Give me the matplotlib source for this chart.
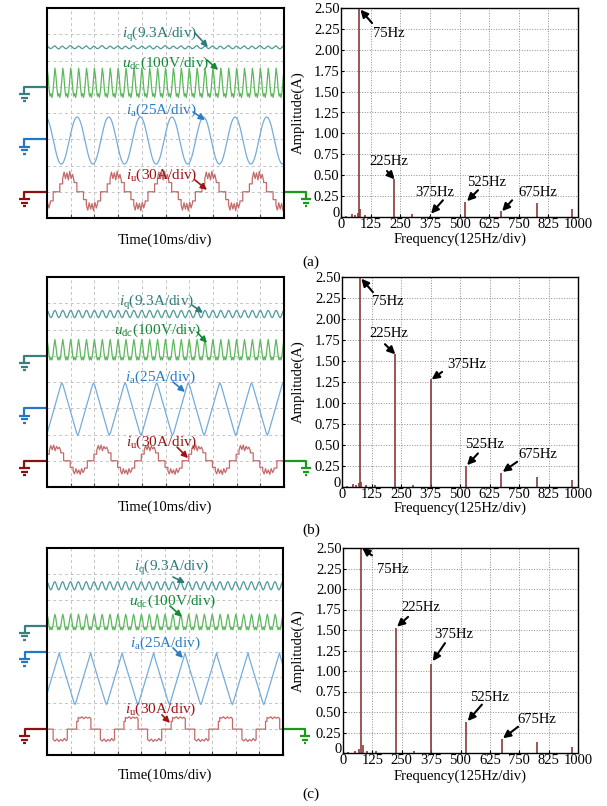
import numpy as np
import matplotlib.pyplot as plt
import matplotlib.transforms as mtransforms

plt.rcParams['font.family'] = ['Liberation Serif', 'DejaVu Serif']
plt.rcParams['mathtext.fontset'] = 'custom'
plt.rcParams['mathtext.rm'] = 'Liberation Serif'
plt.rcParams['mathtext.it'] = 'Liberation Serif:italic'

W, H = 607, 806
FS = 10.5

# ---------------- spectrum data (frequency in Hz, amplitude in A) ----------------
freq_a = [20, 45, 60, 70, 75, 82, 100, 225, 300, 375, 525, 675, 825, 975]
amp_a = [0.01, 0.03, 0.02, 0.05, 2.50, 0.10, 0.02, 0.45, 0.03, 0.01, 0.18, 0.07, 0.17, 0.10]
freq_b = [20, 45, 60, 70, 75, 82, 100, 140, 225, 300, 375, 525, 675, 825, 975]
amp_b = [0.01, 0.04, 0.02, 0.05, 2.50, 0.06, 0.02, 0.02, 1.58, 0.02, 1.28, 0.25, 0.17, 0.12, 0.08]
freq_c = [20, 50, 70, 77, 84, 100, 140, 225, 300, 375, 525, 675, 825, 975]
amp_c = [0.01, 0.02, 0.05, 2.55, 0.10, 0.02, 0.02, 1.53, 0.02, 1.08, 0.38, 0.17, 0.14, 0.07]

freq_ticks = [0, 125, 250, 375, 500, 625, 750, 875, 1000]
freq_ticklabels = ['0', '125', '250', '375', '500', '625', '750', '825', '1000']
amp_ticks = [0, 0.25, 0.5, 0.75, 1.0, 1.25, 1.5, 1.75, 2.0, 2.25, 2.5]
amp_ticklabels = ['0', '0.25', '0.50', '0.75', '1.00', '1.25', '1.50', '1.75', '2.00', '2.25', '2.50']

# harmonic call-outs: label, text position, arrow tail, arrow head
notes_a = [('75Hz', (200, 2.2), (131, 2.32), (82, 2.48)),
           ('225Hz', (200, 0.66), (194, 0.55), (226, 0.45)),
           ('375Hz', (397, 0.29), (430, 0.2), (380, 0.04)),
           ('525Hz', (616, 0.41), (578, 0.32), (532, 0.19)),
           ('675Hz', (831, 0.29), (722, 0.2), (680, 0.07))]
notes_b = [('75Hz', (195, 2.21), (131, 2.32), (82, 2.48)),
           ('225Hz', (197, 1.83), (182, 1.7), (226, 1.58)),
           ('375Hz', (530, 1.46), (424, 1.37), (380, 1.28)),
           ('525Hz', (606, 0.5), (576, 0.4), (530, 0.26)),
           ('675Hz', (831, 0.39), (742, 0.3), (681, 0.18))]
notes_c = [('75Hz', (211, 2.24), (123, 2.41), (82, 2.5)),
           ('225Hz', (330, 1.78), (277, 1.66), (230, 1.54)),
           ('375Hz', (472, 1.44), (434, 1.34), (382, 1.12)),
           ('525Hz', (625, 0.68), (591, 0.59), (531, 0.39)),
           ('675Hz', (826, 0.41), (745, 0.32), (681, 0.18))]

# ---------------- scope traces (div units, 1 div = 10 ms) ----------------
P_A = 4 / 3      # ia period
P_U = 2.0        # iu period
P_R = 1 / 3      # ripple period

# one period of each trace (offset from its centre line)
iq_a = [0.05, 0.02, -0.03, -0.05, -0.01, 0.03, 0.06, 0.01, -0.04, -0.06, -0.02, 0.04,
        0.04, 0.00, -0.05, -0.04, 0.00, 0.05, 0.07, 0.02, -0.03, -0.05, -0.03, 0.02]
iq_b = [0.14, 0.10, 0.00, -0.10, -0.14, -0.10, 0.00, 0.10]
iq_c = [0.16, 0.10, -0.02, -0.12, -0.16, -0.10, 0.02, 0.12]

udc_a = [0.57, 0.30, -0.20, -0.50, -0.40, -0.55, -0.35, 0.10]
udc_b = [0.40, 0.15, -0.20, -0.38, -0.28, -0.38, -0.20, 0.15]
udc_c = [0.30, 0.15, -0.15, -0.30, -0.20, -0.30, -0.15, 0.10]

ia_a = [0.90, 0.87, 0.78, 0.64, 0.45, 0.23, 0.00, -0.23, -0.45, -0.64, -0.78, -0.87,
        -0.90, -0.87, -0.78, -0.64, -0.45, -0.23, 0.00, 0.23, 0.45, 0.64, 0.78, 0.87]
ia_tri_t = [0.0, 0.05, 0.617, 0.667, 0.717, 1.283]
ia_b = [1.00, 0.90, -0.90, -1.00, -0.90, 0.90]
ia_c = [1.00, 0.80, -0.90, -1.00, -0.88, 0.85]

iu_a_t = [0.00, 0.20, 0.20, 0.32, 0.32, 0.38, 0.44, 0.50, 0.56, 0.62, 0.68, 0.74, 0.80, 0.80,
          0.92, 0.92, 1.20, 1.20, 1.32, 1.32, 1.38, 1.44, 1.50, 1.56, 1.62, 1.68, 1.74, 1.80,
          1.80, 1.92, 1.92, 2.00]
iu_a = [0.00, 0.00, 0.30, 0.30, 0.50, 0.75, 0.50, 0.72, 0.45, 0.78, 0.50, 0.66, 0.42, 0.35,
        0.35, 0.00, 0.00, -0.30, -0.30, -0.50, -0.70, -0.42, -0.66, -0.45, -0.72, -0.40, -0.62,
        -0.42, -0.35, -0.35, 0.00, 0.00]
iu_b = [0.00, 0.00, 0.25, 0.25, 0.40, 0.58, 0.42, 0.60, 0.38, 0.55, 0.45, 0.52, 0.38, 0.30,
        0.30, 0.00, 0.00, -0.25, -0.25, -0.38, -0.50, -0.30, -0.48, -0.35, -0.52, -0.30, -0.45,
        -0.35, -0.28, -0.28, 0.00, 0.00]
iu_c_t = [0.00, 0.40, 0.40, 0.46, 0.46, 0.54, 0.62, 0.70, 0.78, 0.86, 0.94, 1.00, 1.00,
          1.40, 1.40, 1.48, 1.56, 1.64, 1.72, 1.80, 1.88, 1.96, 2.00, 2.00]
iu_c = [0.00, 0.00, 0.30, 0.30, 0.45, 0.42, 0.48, 0.40, 0.47, 0.42, 0.46, 0.40, 0.00,
        0.00, -0.40, -0.46, -0.38, -0.48, -0.40, -0.46, -0.36, -0.45, -0.40, 0.00]

C_IQ, C_IQ_L = '#4f9a9a', '#2f7a7a'
C_UDC, C_UDC_L = '#5cb85c', '#138a36'
C_IA, C_IA_L = '#74acdc', '#2a7cc4'
C_IU, C_IU_L = '#c46a6a', '#9e1414'
G_IQ, G_IA, G_IU, G_UDC = '#3a7f7f', '#1f78c8', '#8b1010', '#1a9a1a'

scopes = [
    dict(box=(47, 8, 284, 218),
         traces=[(None, iq_a, P_R * 4, 0.0, 6.5, C_IQ),
                 (None, udc_a, P_R, 0.0, 5.14, C_UDC),
                 (None, ia_a, P_A, 1.27, 2.95, C_IA),
                 (iu_a_t, iu_a, P_U, 0.34, 1.0, C_IU)],
         grounds=[(5.0, G_IQ), (3.0, G_IA), (1.0, G_IU)],
         labels=[(r'$i_{\mathrm{q}}$(9.3A/div)', (4.77, 7.0), (6.24, 7.05), (6.79, 6.51), C_IQ_L),
                 (r'$u_{\mathrm{dc}}$(100V/div)', (5.02, 5.9), (6.75, 6.02), (7.22, 5.64), C_UDC_L),
                 (r'$i_{\mathrm{a}}$(25A/div)', (4.81, 4.11), (6.16, 4.04), (6.67, 3.73), C_IA_L),
                 (r'$i_{\mathrm{u}}$(30A/div)', (4.85, 1.64), (6.24, 1.45), (6.75, 1.07), C_IU_L)]),
    dict(box=(47, 277, 284, 487),
         traces=[(None, iq_b, P_R, 0.0, 6.59, C_IQ),
                 (None, udc_b, P_R, 0.0, 5.22, C_UDC),
                 (ia_tri_t, ia_b, P_A, 0.63, 2.97, C_IA),
                 (iu_a_t, iu_b, P_U, -0.22, 1.0, C_IU)],
         grounds=[(5.0, G_IQ), (3.0, G_IA), (1.0, G_IU)],
         labels=[(r'$i_{\mathrm{q}}$(9.3A/div)', (4.64, 7.01), (6.12, 6.93), (6.58, 6.63), C_IQ_L),
                 (r'$u_{\mathrm{dc}}$(100V/div)', (4.68, 5.98), (6.33, 5.9), (6.75, 5.49), C_UDC_L),
                 (r'$i_{\mathrm{a}}$(25A/div)', (4.77, 4.19), (5.32, 4.0), (5.82, 3.62), C_IA_L),
                 (r'$i_{\mathrm{u}}$(30A/div)', (4.85, 1.71), (5.49, 1.52), (5.95, 1.1), C_IU_L)]),
    dict(box=(47, 548, 283, 755),
         traces=[(None, iq_c, P_R, 0.0, 6.54, C_IQ),
                 (None, udc_c, P_R, 0.0, 5.14, C_UDC),
                 (ia_tri_t, ia_c, P_A, 0.52, 2.95, C_IA),
                 (iu_c_t, iu_c, P_U, 0.86, 1.0, C_IU)],
         grounds=[(5.0, G_IQ), (4.0, G_IA), (1.0, G_IU)],
         labels=[(r'$i_{\mathrm{q}}$(9.3A/div)', (5.3, 7.23), (5.34, 6.88), (5.85, 6.65), C_IQ_L),
                 (r'$u_{\mathrm{dc}}$(100V/div)', (5.34, 5.92), (5.21, 5.76), (5.72, 5.34), C_UDC_L),
                 (r'$i_{\mathrm{a}}$(25A/div)', (5.0, 4.33), (5.34, 4.14), (5.76, 3.75), C_IA_L),
                 (r'$i_{\mathrm{u}}$(30A/div)', (4.83, 1.75), (4.87, 1.55), (5.21, 1.24), C_IU_L)]),
]

spectra = [
    dict(box=(341, 8, 578, 217), f=freq_a, a=amp_a, notes=notes_a),
    dict(box=(342, 277, 578, 487), f=freq_b, a=amp_b, notes=notes_b),
    dict(box=(343, 548, 578, 753), f=freq_c, a=amp_c, notes=notes_c),
]

time_label_y = [240, 507, 775]
freq_label_y = [239, 508, 776]
panel_tags = [('(a)', 262), ('(b)', 530), ('(c)', 794)]


def px_rect(x0, y0, x1, y1):
    return [x0 / W, 1 - y1 / H, (x1 - x0) / W, (y1 - y0) / H]


def tile(tp, yp, period, shift):
    yp = np.asarray(yp, dtype=float)
    if tp is None:
        tp = np.arange(len(yp)) / len(yp) * period
    tp = np.asarray(tp, dtype=float)
    ts, ys = [], []
    for k in range(-3, int(10 / period) + 4):
        ts.append(tp + k * period + shift)
        ys.append(yp)
    return np.concatenate(ts), np.concatenate(ys)


def ground(ax, x0, x1, y, color):
    ax.plot([x0, x1, x1], [y, y, y - 0.28], color=color, lw=1.6, clip_on=False,
            solid_capstyle='butt')
    for dy, hw in [(0.28, 0.22), (0.42, 0.14), (0.55, 0.06)]:
        ax.plot([x1 - hw, x1 + hw], [y - dy, y - dy], color=color, lw=1.6,
                clip_on=False, solid_capstyle='butt')


fig = plt.figure(figsize=(W / 100, H / 100), dpi=100)

for i, sc in enumerate(scopes):
    ax = fig.add_axes(px_rect(*sc['box']))
    ax.set_xlim(0, 10)
    ax.set_ylim(0, 8)
    ax.set_xticks(range(11))
    ax.set_yticks(range(9))
    ax.grid(True, ls=(0, (3, 3)), color='#c4c4c4', lw=0.7)
    ax.tick_params(length=3, direction='in', labelbottom=False, labelleft=False,
                   left=False, color='#444444')
    for s in ax.spines.values():
        s.set_linewidth(1.5)
    for tp, yp, per, shift, base, col in sc['traces']:
        t, y = tile(tp, yp, per, shift)
        ax.plot(t, base + y, color=col, lw=0.9)
    for gy, gc in sc['grounds']:
        ground(ax, 0, -0.95, gy, gc)
    ground(ax, 10, 10.93, 1.0, G_UDC)
    for txt, pos, tail, head, col in sc['labels']:
        ax.text(pos[0], pos[1], txt, color=col, fontsize=11, ha='center', va='center')
        ax.annotate('', xy=head, xytext=tail,
                    arrowprops=dict(arrowstyle='-|>', color=col, lw=1.2,
                                    mutation_scale=9, shrinkA=0, shrinkB=0))
    fig.text(165 / W, 1 - time_label_y[i] / H, 'Time(10ms/div)', fontsize=FS,
             ha='center', va='center')

for i, sp in enumerate(spectra):
    ax = fig.add_axes(px_rect(*sp['box']))
    ax.vlines(sp['f'], 0, sp['a'], color='#8b3a3a', lw=1.2)
    ax.set_xlim(0, 1000)
    ax.set_ylim(0, 2.5)
    ax.set_xticks(freq_ticks)
    ax.set_xticklabels(freq_ticklabels)
    ax.set_yticks(amp_ticks)
    ax.set_yticklabels(amp_ticklabels)
    ax.tick_params(labelsize=FS, length=2, direction='in', pad=1)
    # lift the y "0" a little so it does not sit on the x "0"
    lbl0 = ax.get_yticklabels()[0]
    lbl0.set_transform(lbl0.get_transform() +
                       mtransforms.ScaledTranslation(0, 5 / 100, fig.dpi_scale_trans))
    ax.grid(True, ls=':', color='#8c8c8c', lw=0.7)
    for s in ax.spines.values():
        s.set_linewidth(1.0)
    for txt, pos, tail, head in sp['notes']:
        ax.text(pos[0], pos[1], txt, fontsize=FS, ha='center', va='center')
        ax.annotate('', xy=head, xytext=tail, annotation_clip=False,
                    arrowprops=dict(arrowstyle='-|>', color='k', lw=1.5,
                                    mutation_scale=11, shrinkA=0, shrinkB=0))
    x0, y0, x1, y1 = sp['box']
    fig.text(298 / W, 1 - (y0 + y1) / 2 / H, 'Amplitude(A)', rotation=90,
             fontsize=FS, ha='center', va='center')
    fig.text(460 / W, 1 - freq_label_y[i] / H, 'Frequency(125Hz/div)', fontsize=FS,
             ha='center', va='center')

for tag, ty in panel_tags:
    fig.text(311 / W, 1 - ty / H, tag, fontsize=11, ha='center', va='center')

fig.savefig('out.png', dpi=100)
